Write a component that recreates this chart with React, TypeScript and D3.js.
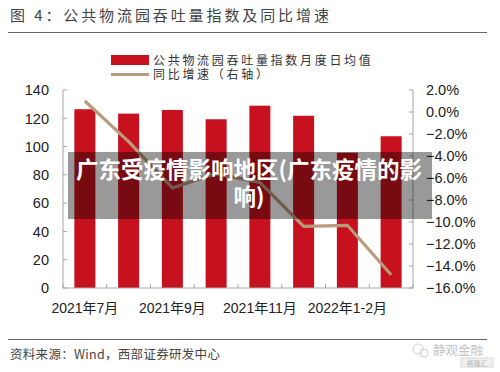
import React, {useEffect, useRef} from 'react';
import * as d3 from "d3"

// categories (only every other one is labelled on the axis)
const months = ["2021年7月", "2021年8月", "2021年9月", "2021年10月", "2021年11月", "2021年12月", "2022年1-2月", "2022年3月"]
const shownLabels = ["2021年7月", "2021年9月", "2021年11月", "2022年1-2月"]
// 公共物流园吞吐量指数月度日均值
const indexValues = [126.4, 123.3, 125.9, 119.3, 128.9, 121.8, 95.7, 107.3]
// 同比增速 (%, right axis)
const yoyValues = [1.0, -2.7, -6.9, -5.6, -6.4, -10.4, -10.3, -14.8]
const leftTicks = [0, 20, 40, 60, 80, 100, 120, 140]
const rightTicks = [2, 0, -2, -4, -6, -8, -10, -12, -14, -16]

const RED = "#c8111f"
const TAN = "#b99a7c"
const AXIS = "#a6a6a6"
const CJK = "'Noto Sans CJK SC', sans-serif"
const LATIN = "'Liberation Sans', Arial, 'Noto Sans CJK SC', sans-serif"

const App = () => {
  const ref = useRef<SVGSVGElement>(null)

  useEffect(() => {
    const width = 500
    const height = 372
    const margin = {top: 90, right: 87, bottom: 84, left: 63}
    const svg = d3.select(ref.current)
    svg.selectAll("*").remove()

    svg.append("rect").attr("width", width).attr("height", height).attr("fill", "#fff")

    // title + rule
    svg.append("text")
      .attr("x", 10).attr("y", 21)
      .attr("font-family", CJK).attr("font-size", 15)
      .attr("letter-spacing", 2.9).attr("fill", "#444")
      .text("图 4：公共物流园吞吐量指数及同比增速")
    svg.append("line").attr("x1", 8).attr("x2", 487).attr("y1", 32.5).attr("y2", 32.5)
      .attr("stroke", "#666").attr("stroke-width", 1.2)

    // legend
    svg.append("rect").attr("x", 111).attr("y", 55).attr("width", 38).attr("height", 10).attr("fill", RED)
    svg.append("text").attr("x", 153).attr("y", 64.5)
      .attr("font-family", CJK).attr("font-size", 12).attr("letter-spacing", 2.7).attr("fill", "#333")
      .text("公共物流园吞吐量指数月度日均值")
    svg.append("line").attr("x1", 111).attr("x2", 149).attr("y1", 74.5).attr("y2", 74.5)
      .attr("stroke", TAN).attr("stroke-width", 3)
    svg.append("text").attr("x", 153).attr("y", 79)
      .attr("font-family", CJK).attr("font-size", 12).attr("letter-spacing", 2.7).attr("fill", "#333")
      .text("同比增速（右轴）")

    // scales
    const x = d3.scaleBand()
      .domain(months)
      .range([margin.left, width - margin.right])
      .paddingInner(0.52)
      .paddingOuter(0.26)
    const y = d3.scaleLinear().domain([0, 140]).range([height - margin.bottom, margin.top])
    const y2 = d3.scaleLinear().domain([-16, 2]).range([height - margin.bottom, margin.top])
    const bottom = height - margin.bottom

    // bars
    svg.append("g").selectAll("rect")
      .data(indexValues)
      .join("rect")
        .attr("x", (d, i) => x(months[i]) as number)
        .attr("y", d => y(d))
        .attr("width", x.bandwidth())
        .attr("height", d => bottom - y(d))
        .attr("fill", RED)

    // line on right axis
    const line = d3.line<number>()
      .x((d, i) => (x(months[i]) as number) + x.bandwidth() / 2)
      .y(d => y2(d))
    svg.append("path")
      .datum(yoyValues)
      .attr("d", line)
      .attr("fill", "none")
      .attr("stroke", TAN)
      .attr("stroke-width", 3.2)
      .attr("stroke-linejoin", "round")

    // left axis
    const left = svg.append("g")
    left.append("line").attr("x1", margin.left).attr("x2", margin.left)
      .attr("y1", margin.top).attr("y2", bottom).attr("stroke", AXIS)
    left.selectAll(".tick").data(leftTicks).join("line")
      .attr("x1", margin.left).attr("x2", margin.left + 4)
      .attr("y1", d => y(d)).attr("y2", d => y(d)).attr("stroke", AXIS)
    left.selectAll("text").data(leftTicks).join("text")
      .attr("x", 49).attr("y", d => y(d)).attr("dy", "0.36em")
      .attr("text-anchor", "end").attr("font-family", LATIN).attr("font-size", 14.5).attr("fill", "#222")
      .text(d => d)

    // right axis
    const rx = width - margin.right
    const right = svg.append("g")
    right.append("line").attr("x1", rx).attr("x2", rx)
      .attr("y1", margin.top).attr("y2", bottom).attr("stroke", AXIS)
    right.selectAll(".tick").data(rightTicks).join("line")
      .attr("x1", rx - 4).attr("x2", rx)
      .attr("y1", d => y2(d)).attr("y2", d => y2(d)).attr("stroke", AXIS)
    right.selectAll("text").data(rightTicks).join("text")
      .attr("x", 426).attr("y", d => y2(d)).attr("dy", "0.36em")
      .attr("font-family", LATIN).attr("font-size", 14.5).attr("fill", "#222")
      .text(d => d3.format(".1f")(d) + "%")

    // bottom axis
    const bx = svg.append("g")
    bx.append("line").attr("x1", margin.left).attr("x2", rx)
      .attr("y1", bottom).attr("y2", bottom).attr("stroke", AXIS)
    const boundaries = d3.range(months.length + 1).map(i => margin.left + i * x.step())
    bx.selectAll(".tick").data(boundaries).join("line")
      .attr("x1", d => d).attr("x2", d => d)
      .attr("y1", bottom - 4).attr("y2", bottom).attr("stroke", AXIS)
    bx.selectAll("text").data(shownLabels).join("text")
      .attr("x", d => (x(d) as number) + x.bandwidth() / 2)
      .attr("y", 313)
      .attr("text-anchor", "middle").attr("font-family", LATIN).attr("font-size", 14).attr("fill", "#222")
      .text(d => d)

    // footer
    svg.append("line").attr("x1", 8).attr("x2", 487).attr("y1", 339.5).attr("y2", 339.5)
      .attr("stroke", "#666").attr("stroke-width", 1.2)
    svg.append("text").attr("x", 10).attr("y", 359)
      .attr("font-family", CJK).attr("font-size", 12.5).attr("letter-spacing", 0.3).attr("fill", "#444")
      .text("资料来源：Wind，西部证券研发中心")

    // watermark
    svg.append("circle").attr("cx", 418).attr("cy", 349).attr("r", 5)
      .attr("fill", "none").attr("stroke", "#d0d0d0").attr("stroke-width", 1)
    svg.append("circle").attr("cx", 424).attr("cy", 353).attr("r", 4)
      .attr("fill", "none").attr("stroke", "#d0d0d0").attr("stroke-width", 1)
    svg.append("text").attr("x", 433).attr("y", 355)
      .attr("font-family", CJK).attr("font-size", 12.5).attr("fill", "#c4c4c4")
      .text("静观金融")
    svg.append("rect").attr("x", 461).attr("y", 358).attr("width", 32).attr("height", 9)
      .attr("fill", "#f0f0f0").attr("stroke", "#d8d8d8")
    svg.append("text").attr("x", 477).attr("y", 365.5).attr("text-anchor", "middle")
      .attr("font-family", LATIN).attr("font-size", 7).attr("fill", "#bbb")
      .text("格隆汇")

    // overlay caption
    svg.append("rect").attr("x", 68).attr("y", 152).attr("width", 364).attr("height", 67)
      .attr("fill", "rgba(0,0,0,0.4)")
    const cap = svg.append("text")
      .attr("text-anchor", "middle").attr("font-family", CJK).attr("font-weight", "bold")
      .attr("font-size", 22.5).attr("fill", "#fff")
    cap.append("tspan").attr("x", 249).attr("y", 178).text("广东受疫情影响地区(广东疫情的影")
    cap.append("tspan").attr("x", 249).attr("y", 205).text("响)")
  }, [])

  return (
    <svg ref={ref} width={500} height={372} style={{position: "fixed", left: 0, top: 0}} />
  )
}

export default App
